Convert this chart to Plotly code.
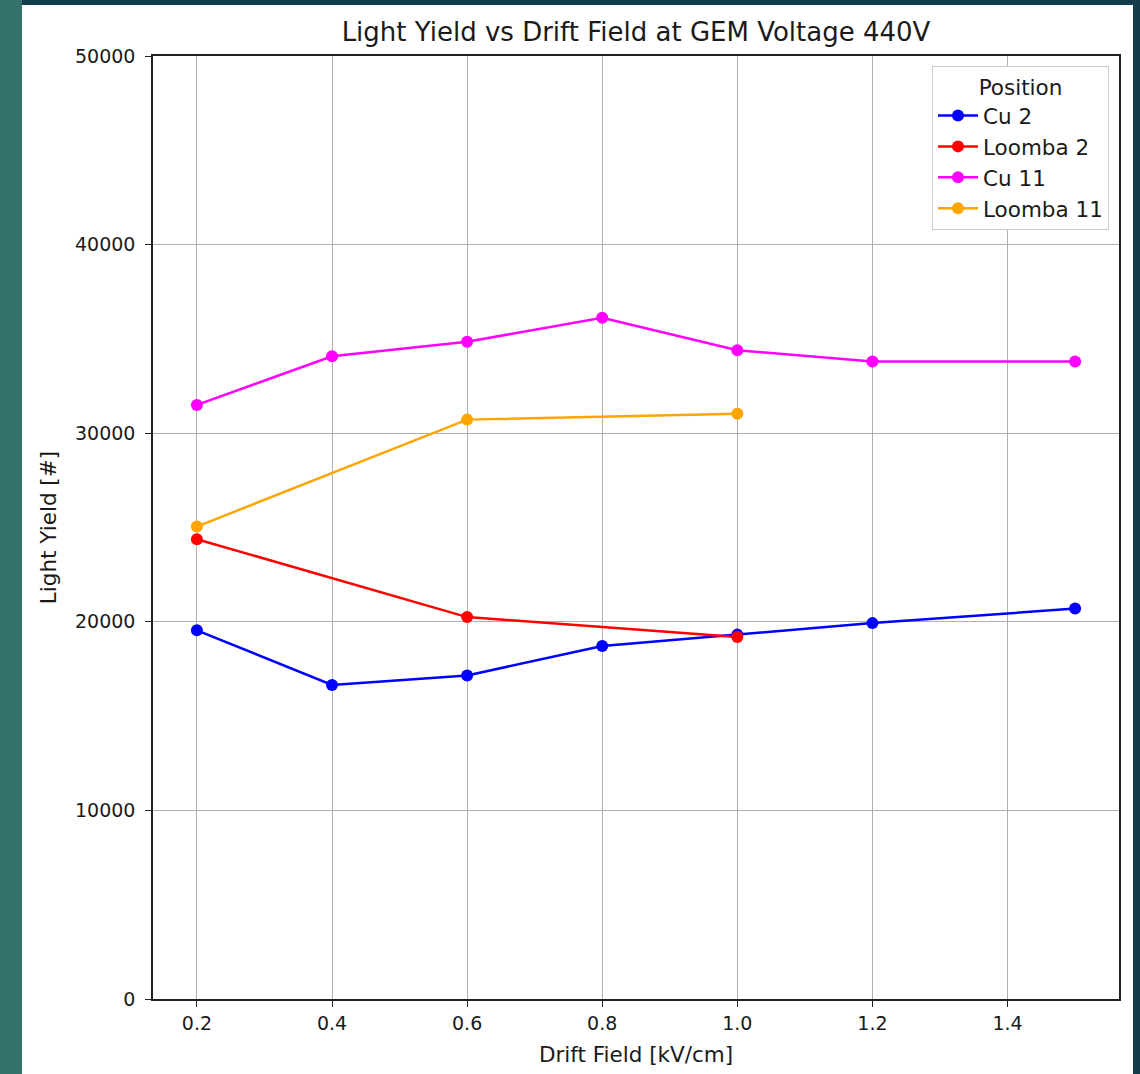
import plotly.graph_objects as go

drift_field = [0.2, 0.4, 0.6, 0.8, 1.0, 1.2, 1.5]
cu2 = [19550, 16650, 17150, 18720, 19320, 19930, 20700]
loomba2_x = [0.2, 0.6, 1.0]
loomba2 = [24380, 20250, 19200]
cu11 = [31500, 34080, 34850, 36120, 34400, 33800, 33800]
loomba11_x = [0.2, 0.6, 1.0]
loomba11 = [25050, 30720, 31030]

x_ticks = [0.2, 0.4, 0.6, 0.8, 1.0, 1.2, 1.4]
x_tick_labels = ["0.2", "0.4", "0.6", "0.8", "1.0", "1.2", "1.4"]
y_ticks = [0, 10000, 20000, 30000, 40000, 50000]

W, H = 1140, 1074
L, R, T, B = 153, 1119, 56, 999
pw, ph = R - L, B - T

def px(xp):
    return (xp - L) / pw

def py(yp):
    return (B - yp) / ph

font = "DejaVu Sans"
fig = go.Figure()

series = [
    ("Cu 2", drift_field, cu2, "#0000ff"),
    ("Loomba 2", loomba2_x, loomba2, "#ff0000"),
    ("Cu 11", drift_field, cu11, "#ff00ff"),
    ("Loomba 11", loomba11_x, loomba11, "#ffa500"),
]
for name, xs, ys, c in series:
    fig.add_trace(go.Scatter(
        x=xs, y=ys, name=name, mode="lines+markers",
        line=dict(color=c, width=2.5),
        marker=dict(color=c, size=12),
    ))

# page background: dark frame + teal left band + white card
fig.add_shape(type="rect", xref="paper", yref="paper",
              x0=px(0), x1=px(22), y0=py(H), y1=py(0),
              fillcolor="#34716b", line_width=0, layer="below")
fig.add_shape(type="rect", xref="paper", yref="paper",
              x0=px(22), x1=px(1133), y0=py(H), y1=py(5),
              fillcolor="white", line_width=0, layer="below")

fig.update_layout(
    width=W, height=H,
    margin=dict(l=L, r=W - R, t=T, b=H - B),
    paper_bgcolor="#143c4a",
    plot_bgcolor="white",
    font=dict(family=font, size=18, color="#1a1a1a"),
    title=dict(text="Light Yield vs Drift Field at GEM Voltage 440V",
               xref="container", x=(L + R) / 2 / W, xanchor="center",
               y=1 - 32 / H, yanchor="middle",
               font=dict(family=font, size=26, color="#1a1a1a")),
    showlegend=True,
    legend=dict(
        title=dict(text="Position", side="top center",
                   font=dict(family=font, size=21.5)),
        x=px(1109), xanchor="right", y=py(66), yanchor="top",
        bgcolor="white", bordercolor="#cccccc", borderwidth=1,
        font=dict(family=font, size=21.5),
        itemwidth=40, tracegroupgap=0,
    ),
)
fig.update_xaxes(
    range=[0.135, 1.565], tickvals=x_ticks, ticktext=x_tick_labels,
    showgrid=True, gridcolor="#b0b0b0", gridwidth=1,
    showline=True, linecolor="#222222", linewidth=1.5, mirror=True,
    ticks="outside", ticklen=6, tickcolor="#222222",
    tickfont=dict(family=font, size=19),
    zeroline=False,
    title=dict(text="Drift Field [kV/cm]", font=dict(family=font, size=21.5), standoff=14),
)
fig.update_yaxes(
    range=[0, 50000], tickvals=y_ticks, ticktext=[str(v) for v in y_ticks],
    showgrid=True, gridcolor="#b0b0b0", gridwidth=1,
    showline=True, linecolor="#222222", linewidth=1.5, mirror=True,
    ticks="outside", ticklen=6, tickcolor="#222222",
    tickfont=dict(family=font, size=19), ticklabelstandoff=6,
    zeroline=False,
    title=dict(text="Light Yield [#]", font=dict(family=font, size=21.5), standoff=12),
)

fig.write_html("out.html")
